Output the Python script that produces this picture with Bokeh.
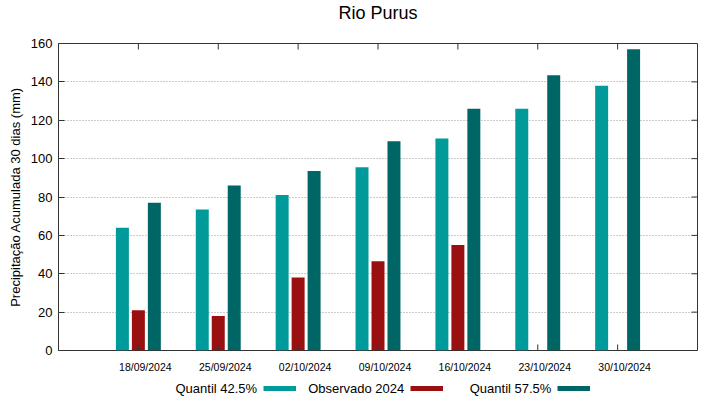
import math
from bokeh.plotting import figure
from bokeh.layouts import column
from bokeh.models import (Range1d, LinearAxis, FixedTicker, Legend, LegendItem,
                          ColumnDataSource, Label)
from bokeh.transform import dodge
from bokeh.embed import file_html
from bokeh.resources import INLINE

# ---- data ----
dates = ["18/09/2024", "25/09/2024", "02/10/2024", "09/10/2024",
         "16/10/2024", "23/10/2024", "30/10/2024"]
quantil_425 = [64, 73.5, 81, 95.5, 110.5, 126, 138]
observado_2024 = [21, 18, 38, 46.5, 55]
quantil_575 = [77, 86, 93.5, 109, 126, 143.5, 157]
y_ticks = [0, 20, 40, 60, 80, 100, 120, 140, 160]
series_names = ["Quantil 42.5%", "Observado 2024", "Quantil 57.5%"]
title_text = "Rio Purus"

FONT = "Liberation Sans"
C_Q1 = "#009a9a"
C_OBS = "#9a1010"
C_Q2 = "#006565"
AX_C = "#333333"
BAR_W = 0.1625
OFF = 0.2
LAB_SHIFT = 0.0875
X0, X1, Y0, Y1 = -1, 7, 0, 160

W = 719
H_TITLE, H_MAIN, H_LEG = 33, 342, 24
B_LEFT, B_RIGHT, B_TOP, B_BOTTOM = 58, 22, 10, 25

def blank_fig(h):
    f = figure(width=W, height=h, x_range=Range1d(0, 1), y_range=Range1d(0, 1),
               output_backend="svg", toolbar_location=None, title=None,
               min_border=0, x_axis_location=None, y_axis_location=None)
    f.grid.visible = False
    f.outline_line_color = None
    f.background_fill_color = "white"
    f.border_fill_color = "white"
    return f

# ---- title strip (frame is aligned with the main chart's frame) ----
pt = blank_fig(H_TITLE)
pt.add_layout(Label(x=(W - B_LEFT - B_RIGHT) / 2, y=20.5,
                    x_units="screen", y_units="screen", text=title_text,
                    text_align="center", text_baseline="alphabetic",
                    text_font=FONT, text_font_size="18px", text_color="black"))

# ---- main chart ----
idx = list(range(len(dates)))
src_q = ColumnDataSource(dict(x=idx, q1=quantil_425, q2=quantil_575))
src_o = ColumnDataSource(dict(x=list(range(len(observado_2024))), obs=observado_2024))

p = figure(width=W, height=H_MAIN, x_range=Range1d(X0, X1), y_range=Range1d(Y0, Y1),
           output_backend="svg", toolbar_location=None, title=None,
           min_border_left=B_LEFT, min_border_right=B_RIGHT, min_border_top=B_TOP,
           min_border_bottom=B_BOTTOM, x_axis_location=None, y_axis_location=None)
p.extra_x_ranges = {"lab": Range1d(X0 - LAB_SHIFT, X1 - LAB_SHIFT)}
p.outline_line_color = AX_C
p.outline_line_width = 1
p.background_fill_color = "white"
p.border_fill_color = "white"

r1 = p.vbar(x=dodge("x", -OFF, range=p.x_range), top="q1", width=BAR_W, source=src_q,
            fill_color=C_Q1, line_color=None)
r2 = p.vbar(x=dodge("x", 0, range=p.x_range), top="obs", width=BAR_W, source=src_o,
            fill_color=C_OBS, line_color=None)
r3 = p.vbar(x=dodge("x", OFF, range=p.x_range), top="q2", width=BAR_W, source=src_q,
            fill_color=C_Q2, line_color=None)

# inward mirror tick marks on top / bottom / right borders
TICK_PX = 6
fw = W - B_LEFT - B_RIGHT
fh = H_MAIN - B_TOP - B_BOTTOM
ty = TICK_PX * (Y1 - Y0) / fh
tx = TICK_PX * (X1 - X0) / fw
p.segment(x0=idx, y0=[Y0] * len(idx), x1=idx, y1=[Y0 + ty] * len(idx),
          line_color=AX_C, line_width=1)
p.segment(x0=idx, y0=[Y1] * len(idx), x1=idx, y1=[Y1 - ty] * len(idx),
          line_color=AX_C, line_width=1)
p.segment(x0=[X1 - tx] * len(y_ticks), y0=y_ticks, x1=[X1] * len(y_ticks), y1=y_ticks,
          line_color=AX_C, line_width=1)

yl = LinearAxis(ticker=FixedTicker(ticks=y_ticks))
yl.major_tick_in = 6
yl.major_tick_out = 0
yl.minor_tick_in = 0
yl.minor_tick_out = 0
yl.axis_line_color = None
yl.major_tick_line_color = AX_C
yl.major_label_text_font = FONT
yl.major_label_text_font_size = "13px"
yl.major_label_text_color = "black"
yl.major_label_standoff = 6
yl.axis_label = "Precipitação Acumulada 30 dias (mm)"
yl.axis_label_text_font = FONT
yl.axis_label_text_font_size = "13px"
yl.axis_label_text_font_style = "normal"
yl.axis_label_text_color = "black"
yl.axis_label_standoff = 5
p.add_layout(yl, "left")

xlab = LinearAxis(x_range_name="lab", ticker=FixedTicker(ticks=idx))
xlab.major_label_overrides = {i: d for i, d in zip(idx, dates)}
xlab.major_tick_in = 0
xlab.major_tick_out = 0
xlab.minor_tick_in = 0
xlab.minor_tick_out = 0
xlab.axis_line_color = None
xlab.major_label_text_font = FONT
xlab.major_label_text_font_size = "10.5px"
xlab.major_label_text_color = "black"
xlab.major_label_standoff = 10
p.add_layout(xlab, "below")

p.xgrid.visible = False
p.ygrid.ticker = FixedTicker(ticks=y_ticks)
p.ygrid.grid_line_color = "#999999"
p.ygrid.grid_line_dash = "1 2"
p.ygrid.grid_line_width = 1

# ---- legend strip (gnuplot style: text followed by its swatch) ----
pl = blank_fig(H_LEG)
nan = [math.nan]
sw0 = pl.line(x=nan, y=nan, line_color="white", line_alpha=0, line_width=5)
sw1 = pl.line(x=nan, y=nan, line_color=C_Q1, line_width=5)
sw2 = pl.line(x=nan, y=nan, line_color=C_OBS, line_width=5)
sw3 = pl.line(x=nan, y=nan, line_color=C_Q2, line_width=5)

NB = "\u00a0"
legend = Legend(items=[LegendItem(label=series_names[0], renderers=[sw0]),
                       LegendItem(label=series_names[1], renderers=[sw1]),
                       LegendItem(label=NB * 4 + series_names[2], renderers=[sw2]),
                       LegendItem(label=NB, renderers=[sw3])],
                location=(130.5 - B_LEFT, 1), orientation="horizontal",
                glyph_width=33, glyph_height=20, label_standoff=12, spacing=6,
                label_text_font=FONT, label_text_font_size="13px",
                label_text_color="black", padding=0, margin=0,
                border_line_color=None, background_fill_alpha=0)
pl.add_layout(legend, "center")

layout = column(pt, p, pl, spacing=0)
open("out.html", "w").write(file_html(layout, INLINE))
